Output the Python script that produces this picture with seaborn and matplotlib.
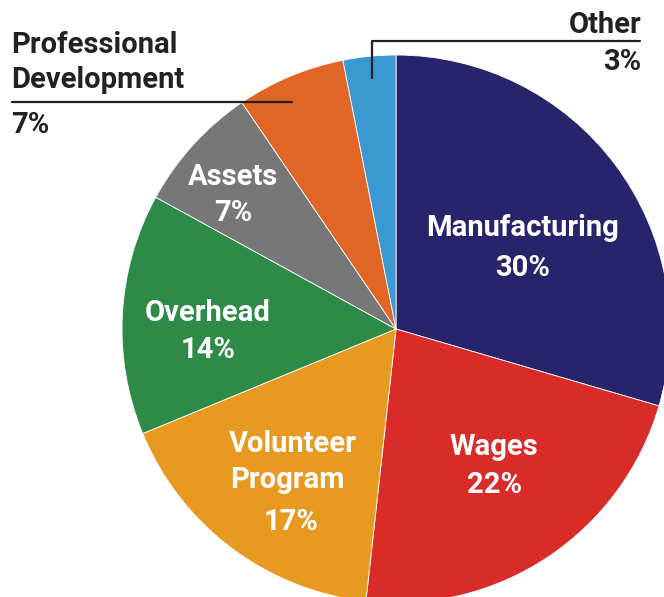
import matplotlib
matplotlib.use("Agg")
import matplotlib.pyplot as plt
import seaborn as sns

# Budget breakdown pie chart

categories = ['Manufacturing', 'Wages', 'Volunteer Program', 'Overhead',
              'Assets', 'Professional Development', 'Other']
# wedge sizes; the labels show rounded values
shares = [29.5, 22.2, 17.0, 14.2, 7.5, 6.4, 3.1]
share_labels = ['30%', '22%', '17%', '14%', '7%', '7%', '3%']
colors = ['#27246b', '#d92b27', '#e8991f', '#2e8b47', '#777778', '#df6624', '#3a99d0']

sns.set_theme(style="white")
plt.rcParams['font.family'] = ['Roboto', 'DejaVu Sans']

W, H = 664, 597
fig = plt.figure(figsize=(W / 100, H / 100), dpi=100)
ax = fig.add_axes([0, 0, 1, 1])

cx, cy, r = 396, H - 329, 274
ax.pie(shares, colors=colors, startangle=90, counterclock=False,
       center=(cx, cy), radius=r, frame=True,
       wedgeprops=dict(edgecolor='white', linewidth=0.6))
ax.set_xlim(0, W)
ax.set_ylim(0, H)
ax.set_aspect('equal')
ax.axis('off')

fs = 21
white = dict(color='white', fontsize=fs, fontweight='bold', ha='center', va='center')
dark = dict(color='#222222', fontsize=fs, fontweight='bold', va='center')


def y(py):
    return H - py


# labels inside the wedges
ax.text(523, y(228), 'Manufacturing', **white)
ax.text(523, y(268), share_labels[0], **white)
ax.text(494, y(447), 'Wages', **white)
ax.text(494, y(485), share_labels[1], **white)
ax.text(293, y(444), 'Volunteer', **white)
ax.text(287, y(480), 'Program', **white)
ax.text(291, y(522), share_labels[2], **white)
ax.text(208, y(313), 'Overhead', **white)
ax.text(208, y(350), share_labels[3], **white)
ax.text(233, y(177), 'Assets', **white)
ax.text(233, y(213), share_labels[4], **white)

# callouts for the small slices
ax.text(11, y(45), 'Professional', ha='left', **dark)
ax.text(11, y(80), 'Development', ha='left', **dark)
ax.text(11, y(125), share_labels[5], ha='left', **dark)
ax.plot([12, 292], [y(102), y(102)], color='#222222', lw=1.6)

ax.text(641, y(25), 'Other', ha='right', **dark)
ax.text(641, y(62), share_labels[6], ha='right', **dark)
ax.plot([640, 372, 372], [y(41), y(41), y(78)], color='#222222', lw=1.6)

fig.savefig('out.png', dpi=100)
